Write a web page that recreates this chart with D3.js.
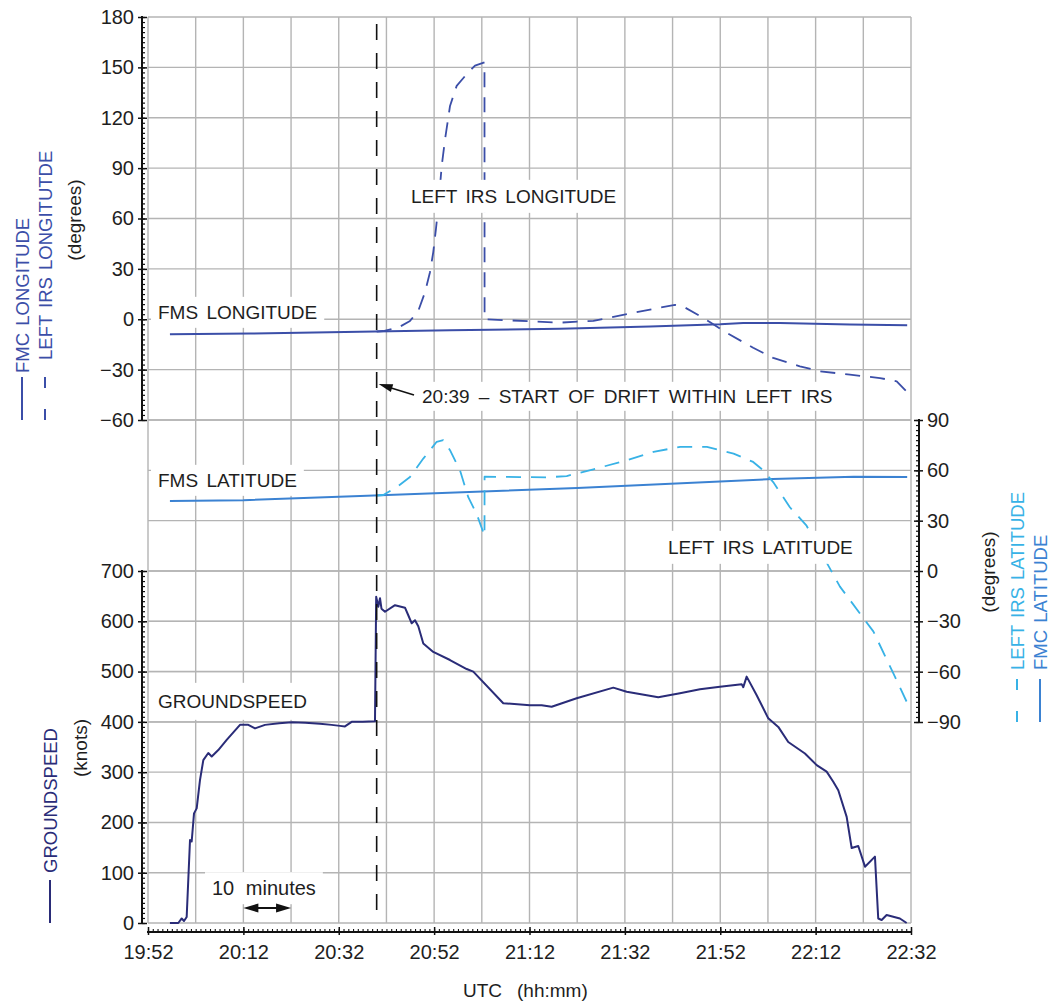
<!DOCTYPE html>
<html><head><meta charset="utf-8">
<script src="https://cdn.jsdelivr.net/npm/d3@7"></script>
<style>
body{margin:0;background:#fff}
text{font-family:"Liberation Sans",Arial,sans-serif}
</style>
</head><body>
<svg id="c" width="1050" height="1003"></svg>
<script>
// ---------- DATA (time = minutes after 19:52 UTC) ----------
const timeTickMinutes = [0,20,40,60,80,100,120,140,160];
const timeTickLabels = ["19:52","20:12","20:32","20:52","21:12","21:32","21:52","22:12","22:32"];
const lonTicks = [-60,-30,0,30,60,90,120,150,180];
const latTicks = [-90,-60,-30,0,30,60,90];
const gsTicks = [0,100,200,300,400,500,600,700];
const driftMinute = 47.95;
const tenMinStart = 20, tenMinEnd = 30;

const gsTime = [4.6,6.35,7.07,7.55,8.11,8.81,9.16,9.65,10.21,10.9,11.6,12.64,13.36,14.74,16.5,19.29,21.03,22.44,24.53,27.5,30.13,33.0,36.07,38.5,40.26,41.3,42.71,45.0,47.6,47.85,48.29,48.65,48.96,49.7,51.8,53.89,54.58,55.3,55.99,56.68,57.73,59.82,63.33,66.83,68.21,74.5,80.1,82.55,84.65,89.89,97.57,100.38,107.0,111.55,115.75,119.94,124.49,124.83,125.54,127.64,130.07,132.17,134.26,137.76,140.22,142.31,143.7,144.75,146.51,147.56,148.94,150.35,152.44,153.13,153.85,154.89,157.67,159.09];
const gsValue = [0,0,9,4,12,165,162,218,228,284,324,338,331,344,364,394,394,387,394,397,399,398,396,394,392,391,400,400,401,649,629,646,625,619,632,627,612,596,602,590,556,539,523,505,500,437,433,433,430,447,468,460,449,457,465,470,475,469,490,453,407,390,360,337,314,301,281,264,211,149,153,112,132,9,6,16,9,0];

const fmsLonTime = [4.6,21.4,44.45,63.3,86.4,105.3,120,124.8,132.5,147.2,159.2];
const fmsLonValue = [-9.0,-8.5,-7.4,-6.6,-5.6,-4.3,-3.0,-2.2,-2.3,-3.2,-3.6];

const irsLonTime = [47.95,49.34,52.48,54.94,56.68,58.08,59.13,59.82,60.39,60.87,61.58,62.28,63.33,64.73,66.83,68.57,70.56,70.58,75.2,86.4,93.4,100.4,107.4,110.5,112.6,115.1,117.8,121.3,126.9,131.1,136.7,140.9,147.2,153.5,157.0,159.4];
const irsLonValue = [-7.3,-7.0,-5,-1,5,16,28,40,54,67,91,107,127,139,146,151,153,0,-0.6,-2,-1,3,7,8.5,7,3,-1.6,-8,-17,-23,-28,-31,-33,-35,-37,-44];

const fmsLatTime = [4.6,20,44.5,90,131,148,159.2];
const fmsLatValue = [41.7,42.2,44.7,49.5,54.8,56.2,56.0];

const irsLatTime = [47.95,49.34,52.15,54.94,57.73,60.54,61.92,63.33,65.42,67.16,68.92,70.56,70.58,78.0,83.6,87.8,93.4,100.4,106.0,111.6,117.2,122.8,126.9,129.0,131.1,134.6,138.1,142.0,145.1,150.0,152.1,156.3,159.1];
const irsLatValue = [45,45.3,50,56,67,77,78,72,60,44,34,21,56.2,56,55.8,56.6,60.6,66,71,74,74,70,65,60,53,38,27,6.6,-9.3,-28,-36,-61,-78];

// ---------- SETUP ----------
const svg = d3.select("#c");
const x = d3.scaleLinear([0,160],[148,911]);
const yLon = d3.scaleLinear([-60,180],[420,17]);
const yLat = d3.scaleLinear([-90,90],[722,420]);
const yGs = d3.scaleLinear([0,700],[923,571]);

const cLon = "#3b4ea8", cLatF = "#3b82d2", cLatI = "#38b2e6", cGs = "#2a2c78", cGrid = "#b4b4b4", cTxt = "#1e1e1e";

// grid
const grid = svg.append("g");
grid.selectAll("line.v").data(d3.range(0,161,10)).join("line")
  .attr("x1",d=>x(d)).attr("x2",d=>x(d)).attr("y1",17).attr("y2",923)
  .attr("stroke",cGrid).attr("stroke-width",1.4);
const hy = [...lonTicks.map(d=>yLon(d)), ...latTicks.map(d=>yLat(d)), ...gsTicks.map(d=>yGs(d))];
grid.selectAll("line.h").data(hy).join("line")
  .attr("x1",148).attr("x2",911).attr("y1",d=>d).attr("y2",d=>d)
  .attr("stroke",cGrid).attr("stroke-width",1.4);

// data lines
function draw(t, v, ys, color, dash, w){
  const pts = t.map((d,i)=>[d, v[i]]);
  svg.append("path").datum(pts)
    .attr("d", d3.line().x(d=>x(d[0])).y(d=>ys(d[1])))
    .attr("fill","none").attr("stroke",color).attr("stroke-width",w)
    .attr("stroke-dasharray",dash||null).attr("stroke-linejoin","round");
}
draw(fmsLatTime, fmsLatValue, yLat, cLatF, null, 2);
draw(irsLatTime, irsLatValue, yLat, cLatI, "15,10", 1.8);
draw(fmsLonTime, fmsLonValue, yLon, cLon, null, 2);
draw(irsLonTime, irsLonValue, yLon, cLon, "15,10", 1.8);
draw(gsTime, gsValue, yGs, cGs, null, 2);

// labels with white boxes
function label(txt, x0, yc, opts={}){
  const g = svg.append("g");
  const r = g.append("rect").attr("fill","#fff");
  const t = g.append("text").attr("x",x0).attr("y",yc).attr("dy","0.36em")
    .attr("font-size",opts.size||19).attr("fill",cTxt)
    .style("word-spacing",(opts.ws||0)+"px").text(txt);
  const b = t.node().getBBox();
  const px = opts.px!=null?opts.px:7, py = opts.py!=null?opts.py:6;
  r.attr("x",b.x-px).attr("y",b.y-py).attr("width",b.width+2*px).attr("height",b.height+2*py);
}
label("LEFT IRS LONGITUDE", 411, 196, {ws:3});
label("FMS LONGITUDE", 158, 312, {ws:3, py:5});
label("FMS LATITUDE", 158, 480, {ws:3, py:5});
label("LEFT IRS LATITUDE", 668, 547, {ws:3});
label("GROUNDSPEED", 158, 701, {py:8});
label("20:39 – START OF DRIFT WITHIN LEFT IRS", 422, 396, {ws:4, py:4});
label("10 minutes", 212, 888, {size:20, ws:6, py:5});

// drift line
svg.append("line").attr("x1",x(driftMinute)).attr("x2",x(driftMinute)).attr("y1",24).attr("y2",923)
  .attr("stroke","#111").attr("stroke-width",1.6).attr("stroke-dasharray","16,13");

// arrows
function arrowHead(tx, ty, fx, fy, len, hw){
  const a = Math.atan2(ty-fy, tx-fx);
  const bx = tx - len*Math.cos(a), by = ty - len*Math.sin(a);
  const nx = -Math.sin(a)*hw, ny = Math.cos(a)*hw;
  svg.append("path").attr("d",`M${tx},${ty}L${bx+nx},${by+ny}L${bx-nx},${by-ny}Z`).attr("fill","#111");
}
const dx = x(driftMinute);
svg.append("line").attr("x1",414).attr("y1",395).attr("x2",dx+8).attr("y2",386).attr("stroke","#111").attr("stroke-width",1.6);
arrowHead(dx+2, 384, 414, 395, 14, 4);
const a1 = x(tenMinStart), a2 = x(tenMinEnd);
svg.append("line").attr("x1",a1+6).attr("x2",a2-6).attr("y1",908).attr("y2",908).attr("stroke","#111").attr("stroke-width",2);
arrowHead(a1, 908, a2, 908, 15, 4.5);
arrowHead(a2, 908, a1, 908, 15, 4.5);

// ---------- AXES ----------
const fmt = d3.format("");
function styleAxis(g){
  g.selectAll("text").attr("font-size",20).attr("fill",cTxt).attr("font-family","Liberation Sans, Arial, sans-serif");
  g.selectAll("line").attr("stroke","#111").attr("stroke-width",1.5);
  g.select(".domain").remove();
}
function vAxis(scale, ticks, minorStep, xPos, side){
  const dom = scale.domain();
  const main = side==="left"?d3.axisLeft(scale):d3.axisRight(scale);
  const inner = side==="left"?d3.axisRight(scale):d3.axisLeft(scale);
  svg.append("g").attr("transform",`translate(${xPos},0)`)
    .call(main.tickValues(ticks).tickSize(4).tickPadding(4).tickFormat(fmt)).call(styleAxis);
  svg.append("g").attr("transform",`translate(${xPos},0)`)
    .call(inner.tickValues(ticks).tickSize(5).tickFormat("")).call(styleAxis);
  const innerMinor = side==="left"?d3.axisRight(scale):d3.axisLeft(scale);
  svg.append("g").attr("transform",`translate(${xPos},0)`)
    .call(innerMinor.tickValues(d3.range(dom[0],dom[1]+0.001,minorStep)).tickSize(3).tickFormat("")).call(g=>{styleAxis(g);g.selectAll("line").attr("stroke-width",1.2);});
  svg.append("line").attr("x1",xPos).attr("x2",xPos).attr("y1",scale(dom[0])+1).attr("y2",scale(dom[1])-1)
    .attr("stroke","#111").attr("stroke-width",2);
}
vAxis(yLon, lonTicks, 3, 142, "left");
vAxis(yGs, gsTicks, 10, 142, "left");
vAxis(yLat, latTicks, 3, 919, "right");

// x axis
const xa = svg.append("g").attr("transform","translate(0,932)");
xa.call(d3.axisBottom(x).tickValues(timeTickMinutes).tickSize(3).tickPadding(10).tickFormat((d,i)=>timeTickLabels[i])).call(styleAxis);
svg.append("g").attr("transform","translate(0,932)")
  .call(d3.axisTop(x).tickValues(timeTickMinutes).tickSize(5).tickFormat("")).call(styleAxis);
svg.append("g").attr("transform","translate(0,932)")
  .call(d3.axisTop(x).tickValues(d3.range(0,160.001,1)).tickSize(3).tickFormat("")).call(g=>{styleAxis(g);g.selectAll("line").attr("stroke-width",1.1);});
svg.append("line").attr("x1",x(0)-1).attr("x2",x(160)+1).attr("y1",932).attr("y2",932).attr("stroke","#111").attr("stroke-width",2);

svg.append("text").attr("x",463).attr("y",997).attr("font-size",19).attr("fill",cTxt).text("UTC");
svg.append("text").attr("x",517).attr("y",997).attr("font-size",19).attr("fill",cTxt).text("(hh:mm)");

// ---------- ROTATED AXIS TITLES / LEGENDS ----------
function rotTitle(txt, cx, cy, color){
  svg.append("text").attr("transform",`translate(${cx},${cy}) rotate(-90)`)
    .attr("text-anchor","middle").attr("dy","0.36em").attr("font-size",19).attr("fill",color).text(txt);
}
function rotLegend(txt, cx, yBottom, color, dashed, textStart){
  const g = svg.append("g").attr("transform",`translate(${cx},${yBottom}) rotate(-90)`);
  if(dashed){
    g.append("line").attr("x1",0).attr("x2",11).attr("y1",0).attr("y2",0).attr("stroke",color).attr("stroke-width",2);
    g.append("line").attr("x1",32).attr("x2",43).attr("y1",0).attr("y2",0).attr("stroke",color).attr("stroke-width",2);
  } else {
    g.append("line").attr("x1",0).attr("x2",43).attr("y1",0).attr("y2",0).attr("stroke",color).attr("stroke-width",2);
  }
  g.append("text").attr("x",textStart).attr("y",0).attr("dy","0.36em").attr("font-size",18.5).attr("fill",color)
    .style("word-spacing","2px").text(txt);
}
rotLegend("FMC LONGITUDE", 22, 420, cLon, false, 47);
rotLegend("LEFT IRS LONGITUTDE", 45, 420, cLon, true, 60);
rotTitle("(degrees)", 74, 220, cTxt);

rotLegend("GROUNDSPEED", 50, 923, cGs, false, 50);
rotTitle("(knots)", 80, 748, cTxt);

rotTitle("(degrees)", 988, 572, cTxt);
rotLegend("LEFT IRS LATITUDE", 1017, 722, cLatI, true, 52);
rotLegend("FMC LATITUDE", 1040, 722, cLatF, false, 52);
</script>
</body></html>
